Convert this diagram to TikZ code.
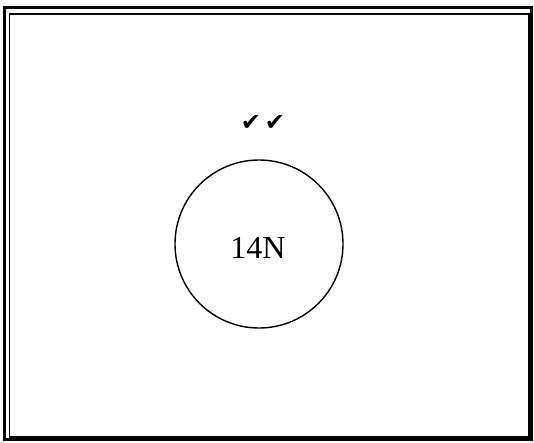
\documentclass[tikz,border=0pt]{standalone}
\usepackage{fontspec}
\setmainfont{Liberation Serif}
\newfontfamily\symfont{DejaVu Sans}
\begin{document}
\begin{tikzpicture}[x=1pt,y=-1pt,
  frameouter/.style={line width=2.6pt,draw=black},
  frameinner/.style={line width=1.6pt,draw=black},
  ring/.style={circle,draw=black,line width=1.4pt,minimum size=168pt,inner sep=0pt},
  marks/.style={font=\symfont\fontsize{24}{24}\selectfont,inner sep=0pt},
  label/.style={font=\fontsize{32}{32}\selectfont,inner sep=0pt}]
\useasboundingbox (0,0) rectangle (534,442);
\draw[frameouter] (4.3,7.3) rectangle (531.5,439.5);
\draw[frameinner] (9.5,13.8) rectangle (529,437);
\node[ring] (c) at (259,244) {};
\node[label] (t) at (258,248) {14N};
\node[marks] (m) at (263,123) {✔\kern4pt✔};
\end{tikzpicture}
\end{document}
